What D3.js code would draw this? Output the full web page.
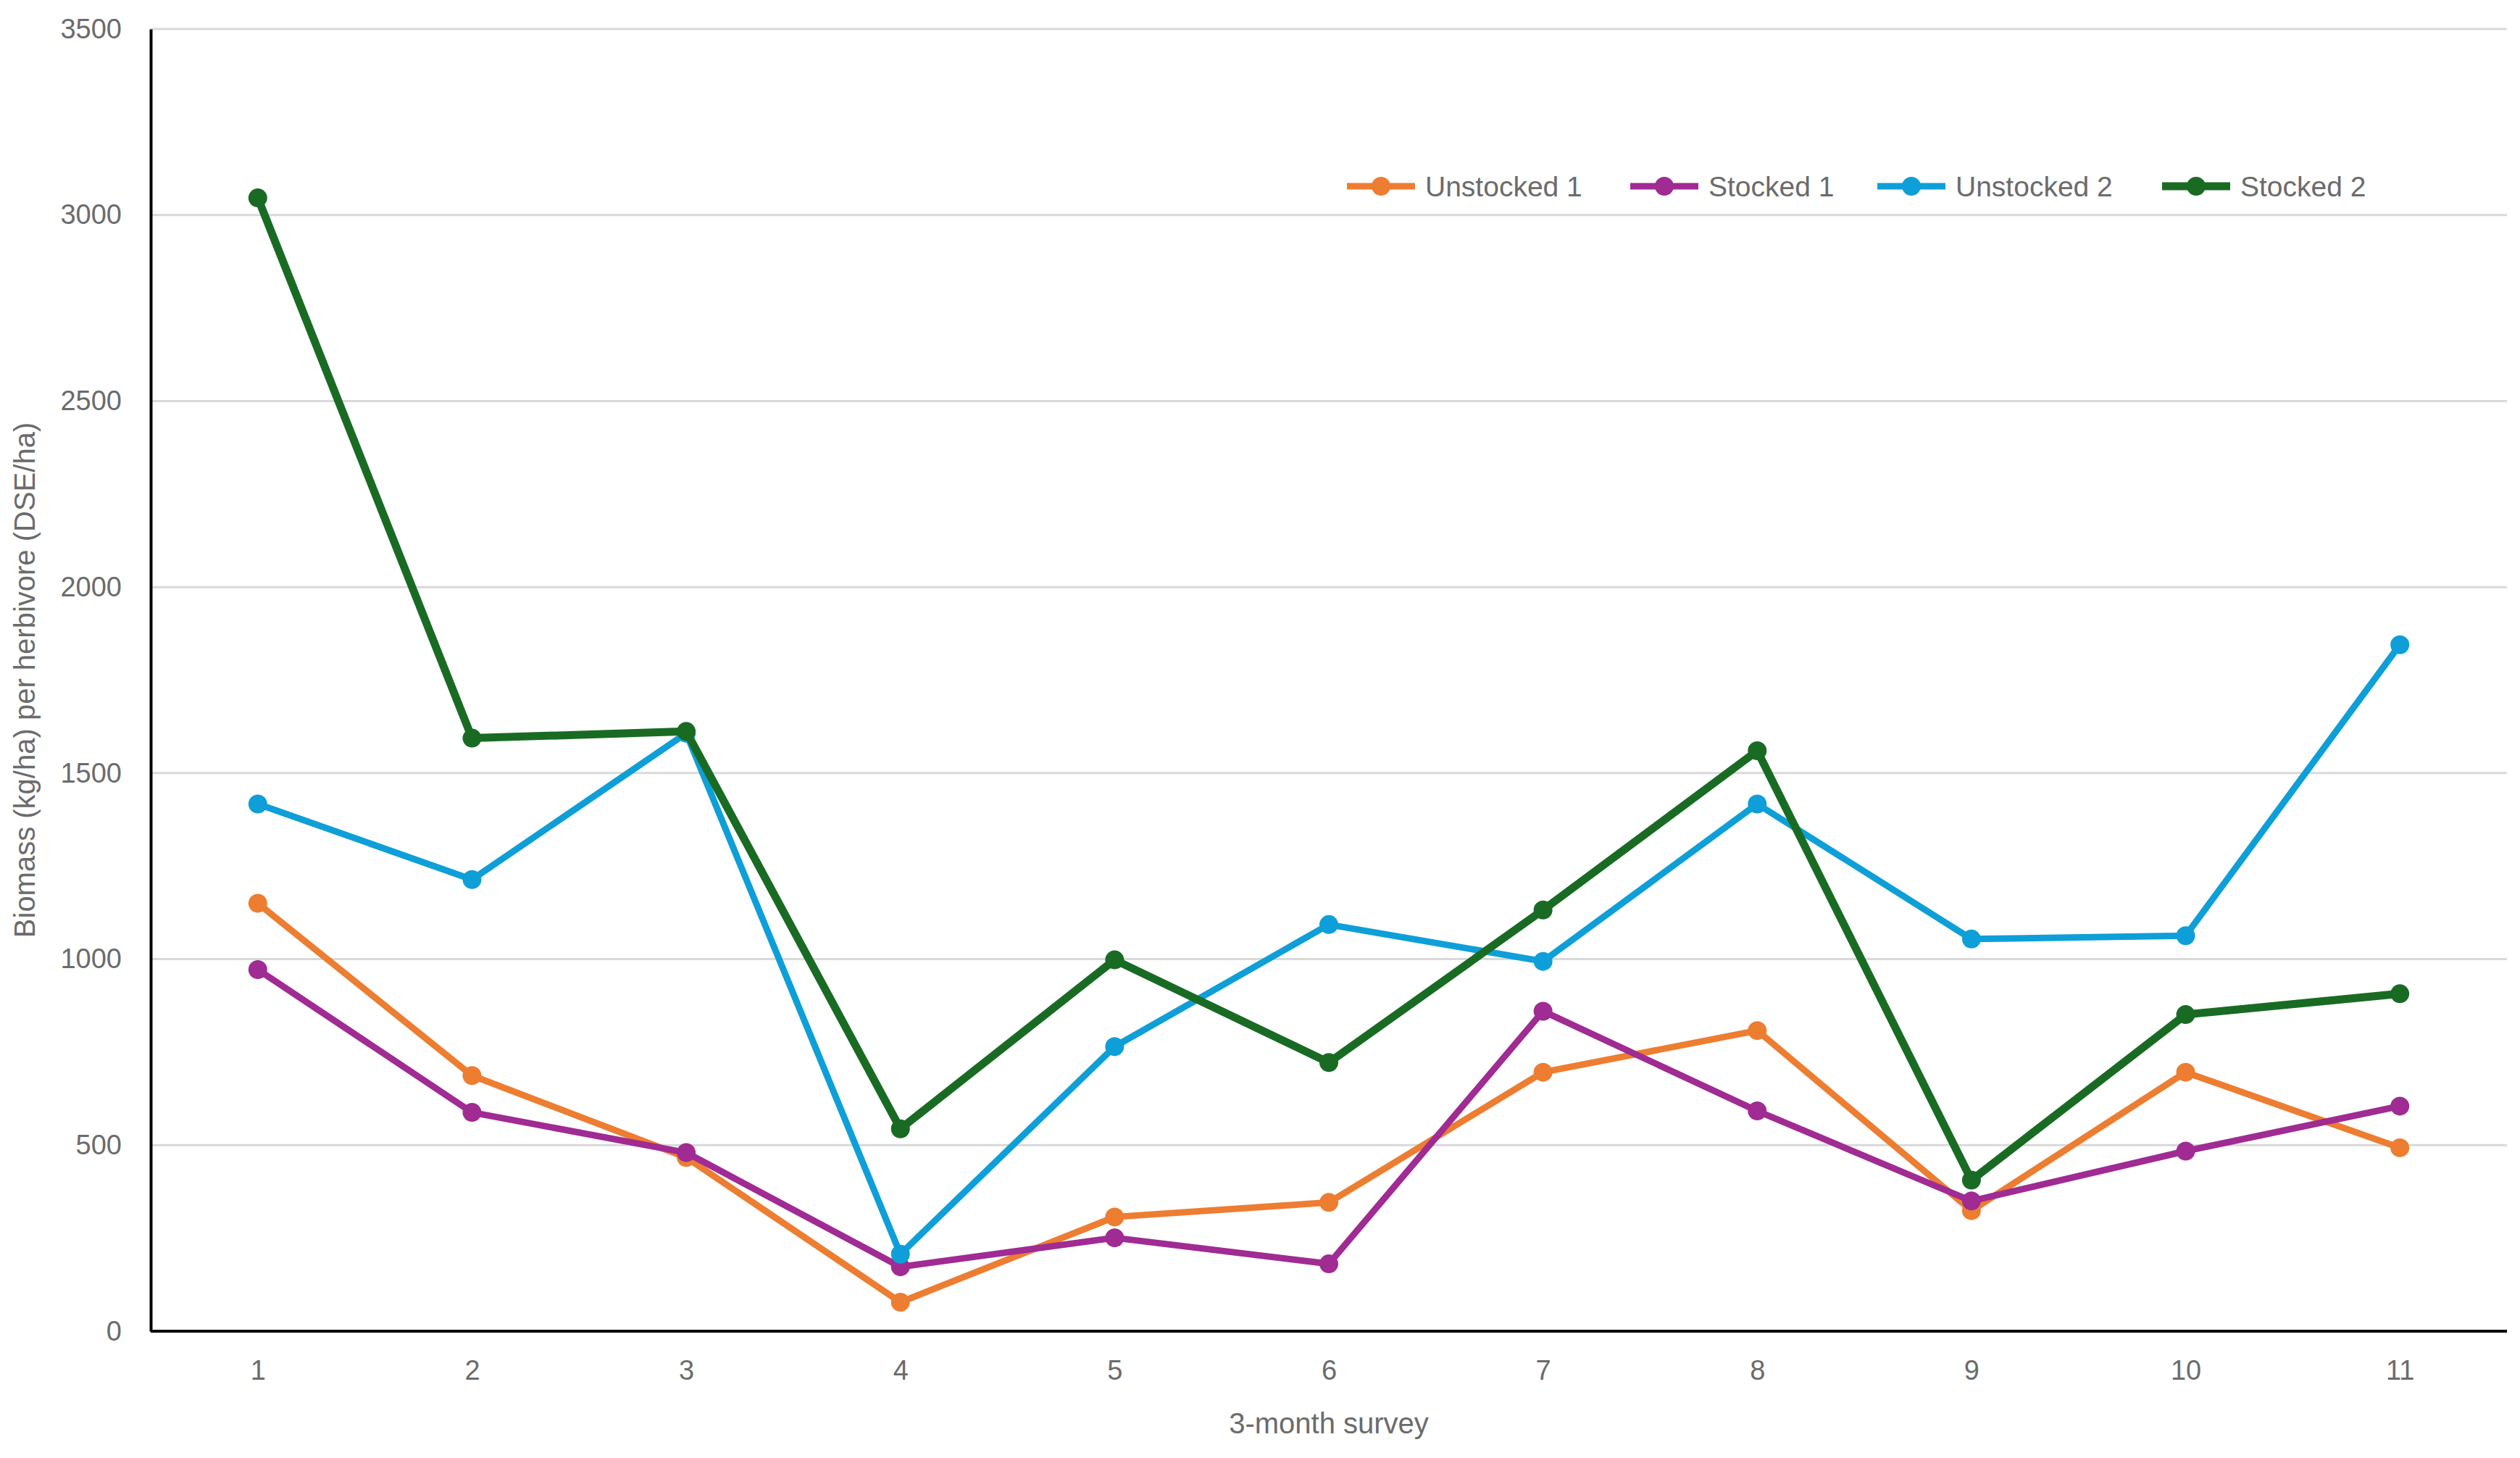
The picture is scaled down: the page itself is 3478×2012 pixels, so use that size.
<!DOCTYPE html>
<html><head><meta charset="utf-8">
<script src="https://cdn.jsdelivr.net/npm/d3@7"></script>
<style>body{margin:0;background:#fff}svg{display:block}</style>
</head><body>
<script>
const surveys = ["1","2","3","4","5","6","7","8","9","10","11"];
const unstocked1 = [1150, 687, 467, 78, 307, 346, 696, 808, 324, 696, 493];
const stocked1 = [972, 588, 480, 173, 251, 181, 860, 592, 350, 484, 605];
const unstocked2 = [1417, 1214, 1607, 207, 765, 1093, 994, 1417, 1054, 1063, 1845];
const stocked2 = [3046, 1594, 1612, 544, 998, 722, 1132, 1560, 406, 851, 907];
const seriesNames = ["Unstocked 1", "Stocked 1", "Unstocked 2", "Stocked 2"];
const seriesColors = ["#ED7D31", "#A02B93", "#0E9FD8", "#196B24"];
const yTicks = [0, 500, 1000, 1500, 2000, 2500, 3000, 3500];

const W = 3478, H = 2012;
const m = {left: 208, right: 18, top: 40, bottom: 175};
const svg = d3.select("body").append("svg").attr("width", W).attr("height", H);
const x = d3.scalePoint().domain(surveys).range([m.left, W - m.right]).padding(0.5);
const y = d3.scaleLinear().domain([0, 3500]).range([H - m.bottom, m.top]);
const font = "Liberation Sans, Arial, sans-serif";
const grey = "#6b6b6b";

// gridlines
svg.append("g").selectAll("line").data(yTicks.filter(d => d > 0)).join("line")
  .attr("x1", m.left).attr("x2", W - m.right)
  .attr("y1", d => y(d)).attr("y2", d => y(d))
  .attr("stroke", "#d9d9d9").attr("stroke-width", 3);

// y axis
const ya = svg.append("g").attr("transform", `translate(${m.left},0)`)
  .call(d3.axisLeft(y).tickValues(yTicks).tickFormat(d3.format("d")).tickSize(0).tickPadding(40));
ya.select(".domain").attr("stroke", "#000").attr("stroke-width", 4);
ya.selectAll("text").attr("font-family", font).attr("font-size", 38).attr("fill", grey);

// x axis
const xa = svg.append("g").attr("transform", `translate(0,${H - m.bottom})`)
  .call(d3.axisBottom(x).tickSize(0).tickPadding(40));
xa.select(".domain").attr("stroke", "#000").attr("stroke-width", 4)
  .attr("d", `M${m.left},0H${W - m.right}`);
xa.selectAll("text").attr("font-family", font).attr("font-size", 38).attr("fill", grey);

// axis titles
svg.append("text").attr("x", (m.left + W - m.right) / 2).attr("y", 1978)
  .attr("text-anchor", "middle").attr("font-family", font).attr("font-size", 40).attr("fill", grey)
  .text("3-month survey");
svg.append("text").attr("transform", `translate(48,${(m.top + H - m.bottom) / 2}) rotate(-90)`)
  .attr("text-anchor", "middle").attr("font-family", font).attr("font-size", 40).attr("fill", grey)
  .text("Biomass (kg/ha) per herbivore (DSE/ha)");

const allSeries = [unstocked1, stocked1, unstocked2, stocked2];
const widths = [9, 9, 9, 11];
const line = d3.line().x((d, i) => x(surveys[i])).y(d => y(d));
allSeries.forEach((vals, k) => {
  const g = svg.append("g");
  g.append("path").datum(vals).attr("d", line).attr("fill", "none")
    .attr("stroke", seriesColors[k]).attr("stroke-width", widths[k]).attr("stroke-linejoin", "round");
  g.selectAll("circle").data(vals).join("circle")
    .attr("cx", (d, i) => x(surveys[i])).attr("cy", d => y(d)).attr("r", 13)
    .attr("fill", seriesColors[k]);
});

// legend
const legX = [1859, 2250, 2591, 2984];
const legY = 257;
const lg = svg.append("g");
seriesNames.forEach((n, k) => {
  lg.append("line").attr("x1", legX[k]).attr("x2", legX[k] + 94).attr("y1", legY).attr("y2", legY)
    .attr("stroke", seriesColors[k]).attr("stroke-width", widths[k]);
  lg.append("circle").attr("cx", legX[k] + 47).attr("cy", legY).attr("r", 13).attr("fill", seriesColors[k]);
  lg.append("text").attr("x", legX[k] + 108).attr("y", legY).attr("dy", "0.35em")
    .attr("font-family", font).attr("font-size", 39).attr("fill", grey).text(n);
});
</script>
</body></html>
